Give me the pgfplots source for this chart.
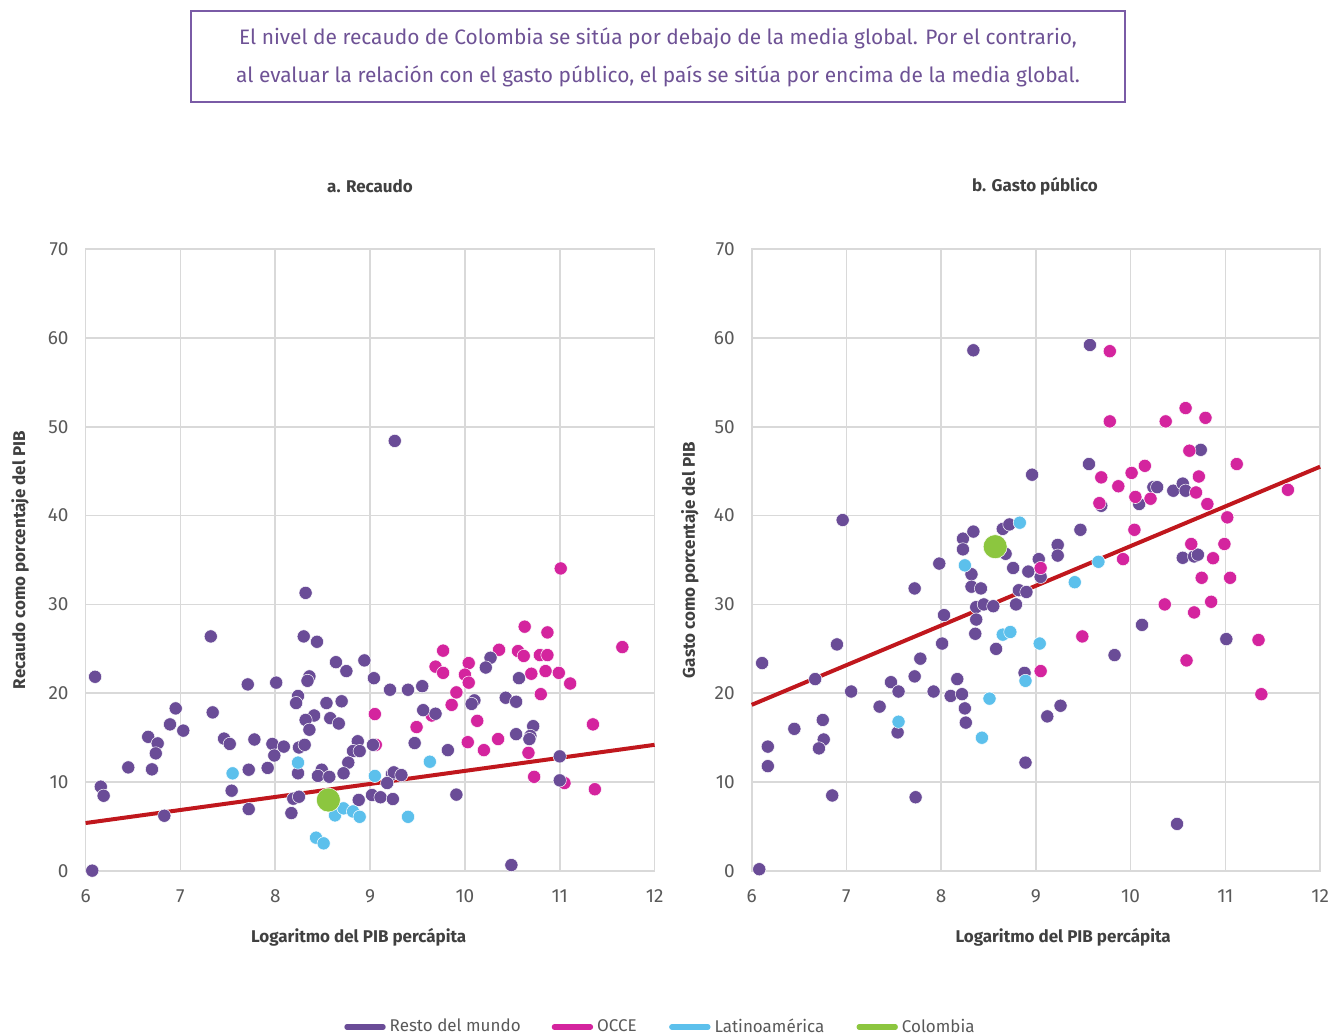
\documentclass[border=0pt]{standalone}
\usepackage{fontspec}
\setmainfont{Fira Sans}
\usepackage{pgfplots}
\pgfplotsset{compat=1.18}
\definecolor{resto}{HTML}{6A4C97}
\definecolor{occe}{HTML}{D4249E}
\definecolor{latam}{HTML}{5CC0EC}
\definecolor{colom}{HTML}{8CC63F}
\definecolor{trend}{HTML}{C0171D}
\definecolor{boxc}{HTML}{7A5BA6}
\definecolor{gridc}{HTML}{D9D9D9}
\definecolor{tickc}{HTML}{595959}
\definecolor{labc}{HTML}{404040}
\pgfplotsset{
  myax/.style={
    scale only axis, height=311pt,
    xmin=6, xmax=12, ymin=0, ymax=70,
    xtick={6,7,...,12}, ytick={0,10,...,70},
    grid=major, major grid style={gridc, line width=0.8pt},
    axis line style={gridc, line width=0.8pt},
    tick style={draw=none},
    tick label style={font=\fontsize{9.5}{11}\selectfont, text=tickc},
    /pgf/number format/assume math mode=true,
    xticklabel style={yshift=-6pt},
    yticklabel style={xshift=-5pt},
    label style={font=\bfseries\fontsize{8.5}{10}\selectfont, text=labc},
    clip=false,
  },
  pr/.style={only marks, mark=*, mark size=3.3pt, mark options={fill=resto, draw=white, line width=0.25pt}},
  po/.style={only marks, mark=*, mark size=3.3pt, mark options={fill=occe, draw=white, line width=0.25pt}},
  pl/.style={only marks, mark=*, mark size=3.3pt, mark options={fill=latam, draw=white, line width=0.25pt}},
  pc/.style={only marks, mark=*, mark size=6pt, mark options={fill=colom, draw=white, line width=0.25pt}},
}
\begin{document}
\begin{tikzpicture}
% title box
\draw[boxc, line width=1pt] (95.5pt,-5.5pt) rectangle (562.5pt,-51pt);
\node[text=boxc!90!black, font=\fontsize{10.45}{12}\selectfont] at (329pt,-19pt) {El nivel de recaudo de Colombia se sitúa por debajo de la media global. Por el contrario,};
\node[text=boxc!90!black, font=\fontsize{10.45}{12}\selectfont] at (329pt,-38pt) {al evaluar la relación con el gasto público, el país se sitúa por encima de la media global.};
\node[text=labc, font=\bfseries\fontsize{8.5}{10}\selectfont] at (185pt,-93pt) {a. Recaudo};
\node[text=labc, font=\bfseries\fontsize{8.5}{10}\selectfont] at (517.5pt,-93pt) {b. Gasto público};

% ---------- panel a ----------
\begin{axis}[myax, width=284.5pt, at={(42.8pt,-435.5pt)}, anchor=south west,
  xlabel={Logaritmo del PIB percápita}, ylabel={Recaudo como porcentaje del PIB},
  xlabel style={at={(axis description cs:0.48,-0.106)}, anchor=center},
  ylabel style={at={(axis description cs:-0.115,0.5)}, anchor=center}]
\addplot[trend, line width=2pt, forget plot] coordinates {(6,5.4) (12,14.2)};
\addplot[po] coordinates {
(11.01,34.05) (10.63,27.5) (10.87,26.85) (11.66,25.2) (9.77,24.8) (10.36,24.9)
(10.56,24.75) (10.62,24.2) (10.79,24.3) (10.87,24.3) (9.69,23.0) (9.77,22.3)
(10.04,23.4) (10.00,22.1) (10.04,21.2) (10.70,22.2) (10.85,22.5) (10.99,22.3)
(11.11,21.1) (9.91,20.1) (9.86,18.7) (10.80,19.9) (9.05,17.66) (9.65,17.5)
(9.49,16.2) (10.13,16.9) (11.35,16.5) (10.03,14.5) (10.20,13.6) (10.35,14.85)
(10.67,13.3) (10.73,10.6) (11.05,9.9) (11.37,9.2) (9.06,14.2)
};
\addplot[pr] coordinates {
(6.10,21.86) (6.16,9.49) (6.19,8.47) (6.07,0.04) (6.45,11.66) (6.66,15.1)
(6.76,14.36) (6.74,13.24) (6.70,11.44) (6.83,6.22) (6.89,16.5) (6.95,18.3)
(7.03,15.8) (7.32,26.4) (7.34,17.85) (7.46,14.9) (7.52,14.3) (7.54,9.04)
(7.71,21.0) (7.72,11.4) (7.78,14.8) (7.72,6.97) (7.92,11.6) (7.97,14.3)
(7.99,13.0) (8.01,21.2) (8.09,14.0) (8.32,31.3) (8.30,26.4) (8.44,25.8)
(8.24,19.7) (8.22,18.9) (8.36,21.9) (8.34,21.4) (8.41,17.5) (8.32,17.0)
(8.36,15.9) (8.25,13.9) (8.31,14.2) (8.24,11.0) (8.19,8.14) (8.25,8.36)
(8.17,6.52) (8.64,23.5) (8.75,22.5) (8.94,23.7) (8.54,18.9) (8.58,17.2)
(8.67,16.6) (8.70,19.1) (8.87,14.6) (8.82,13.5) (8.89,13.5) (8.77,12.2)
(8.49,11.4) (8.45,10.7) (8.57,10.6) (8.72,11.0) (8.88,8.0) (9.02,8.55)
(9.04,21.7) (9.03,14.2) (9.21,20.4) (9.40,20.4) (9.55,20.8) (10.27,24.0)
(10.22,22.9) (10.57,21.7) (9.56,18.1) (9.69,17.7) (10.10,19.2) (10.07,18.8)
(10.43,19.5) (10.54,19.05) (10.72,16.3) (10.54,15.4) (10.69,15.2) (10.68,14.85)
(9.47,14.4) (9.82,13.6) (11.00,12.9) (11.00,10.2) (9.23,10.9) (9.25,11.1)
(9.33,10.8) (9.18,9.9) (9.11,8.3) (9.24,8.1) (9.91,8.6) (10.49,0.67) (9.26,48.4)
};
\addplot[pl] coordinates {
(7.55,10.99) (8.24,12.2) (8.63,6.26) (8.72,7.05) (8.82,6.7) (8.89,6.1)
(8.43,3.75) (8.51,3.11) (9.05,10.7) (9.63,12.3) (9.40,6.1)
};
\addplot[pc] coordinates {(8.56,7.99)};
\end{axis}

% ---------- panel b ----------
\begin{axis}[myax, width=284.2pt, at={(375.85pt,-435.5pt)}, anchor=south west,
  xlabel={Logaritmo del PIB percápita}, ylabel={Gasto como porcentaje del PIB},
  xlabel style={at={(axis description cs:0.548,-0.106)}, anchor=center},
  ylabel style={at={(axis description cs:-0.1086,0.5)}, anchor=center},
  legend style={at={(axis description cs:-0.7174,-0.2508)}, anchor=west, draw=none, fill=none,
    inner sep=0pt, nodes={inner sep=0pt},
    legend columns=4, font=\fontsize{8.5}{10}\selectfont, text=tickc,
    /tikz/every odd column/.append style={column sep=2pt},
    /tikz/every even column/.append style={column sep=0pt}},
  legend image code/.code={\draw[line width=2.6pt, line cap=round, #1] (0.7pt,0pt) -- (18.8pt,0pt);}]
\addplot[trend, line width=2pt, forget plot] coordinates {(6,18.7) (12,45.5)};
\addplot[pr, legend image post style={resto}] coordinates {
(6.96,39.5) (6.11,23.4) (6.08,0.2) (6.17,14.0) (6.17,11.8) (6.45,16.0)
(6.67,21.6) (6.75,17.0) (6.76,14.8) (6.71,13.8) (6.90,25.5) (6.85,8.5)
(7.05,20.2) (7.35,18.5) (7.47,21.25) (7.55,20.2) (7.54,15.6) (7.72,31.8)
(7.72,21.9) (7.78,23.9) (7.73,8.3) (7.92,20.2) (7.98,34.6) (8.03,28.8)
(8.01,25.6) (8.10,19.7) (8.17,21.6) (8.22,19.9) (8.25,18.3) (8.26,16.7)
(8.23,37.4) (8.34,38.2) (8.23,36.2) (8.32,33.4) (8.32,32.0) (8.42,31.8)
(8.37,29.7) (8.45,30.0) (8.55,29.8) (8.37,28.3) (8.36,26.7) (8.58,25.0)
(8.68,35.7) (8.65,38.5) (8.72,39.0) (8.76,34.1) (8.92,33.7) (8.82,31.6)
(8.90,31.4) (8.79,30.0) (8.88,22.3) (8.89,12.2) (8.96,44.6) (9.03,35.1)
(9.05,33.1) (9.56,45.8) (10.74,47.4) (9.69,41.1) (10.09,41.3) (10.24,43.2)
(10.28,43.2) (10.45,42.8) (10.55,43.6) (10.58,42.8) (9.47,38.4) (9.23,36.7)
(9.23,35.5) (10.55,35.25) (10.67,35.4) (10.71,35.6) (10.12,27.7) (9.83,24.3)
(11.01,26.1) (9.12,17.4) (9.26,18.6) (10.49,5.3) (8.34,58.6) (9.57,59.2)
};
\addlegendentry{\makebox[81pt][l]{Resto del mundo}}
\addplot[po, legend image post style={occe}] coordinates {
(9.78,58.5) (9.78,50.6) (10.37,50.6) (10.58,52.1) (10.79,51.0) (10.62,47.3)
(11.12,45.8) (9.69,44.3) (10.01,44.8) (10.15,45.6) (9.87,43.3) (10.72,44.4)
(10.05,42.1) (10.21,41.9) (10.69,42.6) (9.67,41.4) (10.81,41.3) (11.66,42.9)
(11.02,39.8) (10.04,38.4) (10.64,36.8) (10.99,36.8) (9.92,35.1) (10.87,35.2)
(9.05,34.1) (10.75,33.0) (11.05,33.0) (10.36,30.0) (10.85,30.3) (10.67,29.1)
(9.49,26.4) (11.35,26.0) (10.59,23.7) (9.05,22.5) (11.38,19.9)
};
\addlegendentry{\makebox[36pt][l]{OCCE}}
\addplot[pl, legend image post style={latam}] coordinates {
(8.25,34.4) (8.51,19.4) (8.43,15.0) (7.55,16.8) (8.83,39.2) (8.65,26.6)
(8.73,26.9) (8.89,21.4) (9.04,25.6) (9.66,34.8) (9.41,32.5)
};
\addlegendentry{\makebox[71pt][l]{Latinoamérica}}
\addplot[pc, legend image post style={colom}] coordinates {(8.57,36.5)};
\addlegendentry{Colombia}
\end{axis}
\pgfresetboundingbox
\useasboundingbox (0pt,0pt) rectangle (665.5pt,-518pt);
\end{tikzpicture}
\end{document}
